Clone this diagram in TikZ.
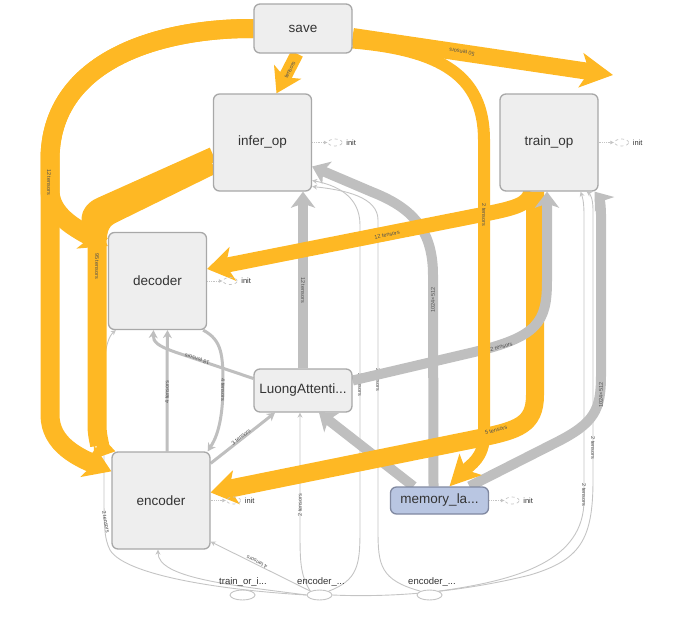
\documentclass[tikz,border=0pt]{standalone}
\usepackage{fontspec}
\setmainfont{Liberation Sans}
\usetikzlibrary{arrows.meta,shapes.geometric,backgrounds}
\definecolor{tfOrange}{RGB}{254,184,36}
\definecolor{tfGray}{RGB}{191,191,191}
\definecolor{tfThin}{RGB}{196,196,196}
\definecolor{opFill}{RGB}{238,238,238}
\definecolor{opLine}{RGB}{168,168,168}
\definecolor{memFill}{RGB}{185,198,226}
\definecolor{memLine}{RGB}{128,136,160}
\definecolor{opText}{RGB}{51,51,51}
\definecolor{lblText}{RGB}{80,80,80}
\tikzset{
  op/.style={draw=opLine,fill=opFill,line width=1.3pt,rounded corners=6pt,minimum width=98pt,minimum height=97pt,inner sep=0pt,text=opText,font=\fontsize{13.5}{15}\selectfont},
  mem/.style={op,fill=memFill,draw=memLine,minimum height=27pt},
  cst/.style={ellipse,draw=tfThin,fill=white,line width=0.9pt,minimum width=25pt,minimum height=10pt,inner sep=0pt},
  cstlbl/.style={text=opText,inner sep=0pt,font=\fontsize{9.5}{11}\selectfont},
  ini/.style={ellipse,draw=tfThin,dashed,line width=0.7pt,minimum width=14pt,minimum height=7pt,inner sep=0pt},
  initxt/.style={text=opText,inner sep=0pt,font=\fontsize{7.5}{8}\selectfont},
  inidot/.style={draw=tfThin,densely dotted,line width=0.8pt,-{Latex[length=4pt,width=4pt]}},
  lbl/.style={text=lblText,inner sep=0pt,font=\fontsize{5.5}{6}\selectfont},
  ctl/.style={draw=tfThin,line width=0.9pt,-{Stealth[length=5pt,width=5pt]}},
  dat/.style={draw=tfGray,line width=3pt,-{Stealth[length=8pt,width=9pt]}},
  fat/.style={draw=tfGray,line width=10pt,line join=round,-{Stealth[length=16pt,width=24pt,inset=4pt]}},
  ref/.style={draw=tfOrange,line width=#1,line join=round,-{Stealth[length=26pt,width=34pt,inset=7pt]}}
}
\newcommand{\ntens}[1]{#1 tensors}
\newcommand{\initstub}[1]{%
  \node[ini] (#1ini) at ([xshift=23pt]#1.east) {};
  \node[initxt,anchor=west] (#1init) at ([xshift=11pt]#1ini.center) {init};
  \draw[inidot] (#1.east) -- (#1ini.west);
}

\begin{document}
\begin{tikzpicture}[x=1pt,y=-1pt]
\useasboundingbox (0,0) rectangle (674,616);
% op nodes
\node[op,minimum height=49pt] (save) at (303,28.5) {save};
\node[op] (infer) at (262.5,142.5) {infer\_op};
\node[op] (train) at (549,142.5) {train\_op};
\node[op] (dec) at (157.5,281) {decoder};
\node[op] (enc) at (161,500.5) {encoder};
\node[op,minimum height=43pt] (luong) at (303,390.5) {LuongAttenti...};
\node[mem] (mem) at (439.5,500.5) {memory\_la...};
% inputs at the bottom
\node[cst] (trn) at (242.5,595) {};
\node[cst] (enc1) at (319.5,595) {};
\node[cst] (enc2) at (429.5,595) {};
\node[cstlbl] (trnL) at (243,582) {train\_or\_i...};
\node[cstlbl] (enc1L) at (321,582) {encoder\_...};
\node[cstlbl] (enc2L) at (432,582) {encoder\_...};
% init stubs
\initstub{infer} \initstub{train} \initstub{dec} \initstub{enc} \initstub{mem}

\begin{scope}[on background layer]
% thin lines from the inputs
\draw[ctl] (enc1.north west) .. controls (300,575) and (300,560) .. (300,530) -- ([xshift=-3pt]luong.south);
\draw[ctl] (enc1.north east) .. controls (358,580) and (360,565) .. (360,530) -- (360,225) .. controls (360,195) and (335,185) .. ([yshift=-38pt]infer.east);
\draw[ctl] (enc2.north west) .. controls (380,580) and (378,565) .. (378,530) -- (378,220) .. controls (378,197) and (345,190) .. ([yshift=-44pt]infer.east);
\draw[ctl] (enc2.north east) .. controls (520,580) and (584,560) .. (584,500) -- (584,215) .. controls (584,200) and (582,196) .. ([xshift=-18pt]train.south east);
\draw[ctl] (enc1.east) .. controls (400,598) and (470,590) .. (530,575) .. controls (580,560) and (593,540) .. (593,480) -- (593,210) .. controls (593,198) and (590,194) .. ([xshift=-12pt]train.south east);
\draw[ctl] (enc1.west) .. controls (230,585) and (158,578) .. ([xshift=-3pt]enc.south);
\draw[ctl] (enc1.north west) -- ([yshift=8pt]enc.south east);
\draw[ctl] (enc1.west) .. controls (220,590) and (125,575) .. (110,550) .. controls (104,538) and (104,525) .. (104,490) -- (104,375) .. controls (104,345) and (110,335) .. ([xshift=8pt]dec.south west);
\node[lbl,rotate=90] (lE1Lu) at (300,505) {\ntens{2}};
\node[lbl,rotate=-90] (lE1Inf) at (360,385) {\ntens{2}};
\node[lbl,rotate=-90] (lE2Inf) at (378,380) {\ntens{2}};
\node[lbl,rotate=-90] (lE2Trn) at (584,495) {\ntens{2}};
\node[lbl,rotate=-90] (lE1Trn) at (593,448) {\ntens{2}};
\node[lbl,rotate=153.7] (lE1Enc) at (257,562) {\ntens{4}};
\node[lbl,rotate=-80] (lE1Dec) at (106,522) {\ntens{2}};
% data edges
\draw[dat] ([yshift=12pt]luong.west) -- (175,352) .. controls (158,346) and (153,342) .. ([xshift=-4pt]dec.south);
\draw[dat] ([xshift=-4pt]dec.south east) .. controls (222,340) and (223,355) .. (223,385) .. controls (223,425) and (215,440) .. ([xshift=-3pt]enc.north east);
\draw[dat] ([xshift=6pt]enc.north) .. controls (167,420) and (167,360) .. ([xshift=10pt]dec.south);
\draw[dat] ([yshift=-12pt]enc.north east) -- ([xshift=-28pt]luong.south);
\node[lbl,rotate=161.5] (lLuDec) at (197,359) {\ntens{18}};
\node[lbl,rotate=-90] (lDecEnc) at (223,390) {\ntens{4}};
\node[lbl,rotate=90] (lEncDec) at (167,392) {\ntens{4}};
\node[lbl,rotate=38.7] (lEncLu) at (241,437) {\ntens{3}};
% wide data edges
\draw[fat] (luong.north) -- (luong.north |- infer.south);
\draw[fat] ([xshift=-6pt]mem.north) -- (433,275) .. controls (433,228) and (410,207) .. (372,192) -- ([yshift=-24pt]infer.east);
\draw[fat] ([xshift=30pt]mem.north) -- (555,443) .. controls (595,423) and (601,410) .. (601,375) -- (601,215) .. controls (601,200) and (598,196) .. ([xshift=-4pt]train.south east);
\draw[fat] ([xshift=-26pt]mem.north) -- ([xshift=16pt]luong.south);
\node[lbl,rotate=-90] (lLuInf) at (303,290) {\ntens{12}};
\node[lbl,rotate=90] (lMemInf) at (433,300) {1024×512};
\node[lbl,rotate=90] (lMemTrn) at (601,395) {1024×512};
% reference edges
\coordinate (rim) at (613,75);
\draw[ref=13pt,-{Stealth[length=24pt,width=30pt,inset=6pt]}] ([xshift=-6pt]save.south) -- ([xshift=14pt]infer.north);
\draw[ref=17pt,-{Stealth[length=32pt,width=34pt,inset=8pt]}] ([yshift=-8pt]save.east) -- (rim);
\draw[ref=19pt] (save.west) .. controls (160,28) and (50,60) .. (50,160) -- (50,190) .. controls (50,215) and (75,228) .. ([yshift=35pt]dec.west);
\draw[ref=19pt] (save.west) .. controls (160,28) and (50,60) .. (50,160) -- (50,415) .. controls (50,445) and (80,458) .. ([yshift=-20pt]enc.north west);
\draw[ref=15pt] ([yshift=-12pt]infer.west) -- (100,205) .. controls (85,212) and (88,225) .. ([yshift=42pt]dec.west);
\draw[ref=19pt] ([yshift=-22pt]infer.west) -- (110,215) .. controls (98,222) and (97,232) .. (97,250) -- (97,425) .. controls (97,440) and (102,448) .. ([xshift=4pt]enc.north west);
\draw[ref=15pt] ([xshift=-18pt]train.south) .. controls (528,205) and (515,208) .. (480,215) -- ([yshift=12pt]dec.east);
\draw[ref=18pt] ([xshift=-14pt]train.south) -- (535,395) .. controls (535,425) and (518,430) .. (480,438) -- ([yshift=8pt]enc.east);
% LuongAttention to train_op lies over its neighbour
\draw[fat] ([yshift=10pt]luong.east) -- (470,353) .. controls (539,337) and (547,322) .. (547,280) -- ([xshift=-2pt]train.south);
\node[lbl,rotate=14] (lLuTrn) at (500,347) {\ntens{12}};
\draw[ref=12pt,-{Stealth[length=30pt,width=30pt,inset=7pt]}] ([yshift=-14pt]save.east) .. controls (440,50) and (484,75) .. (484,140) -- (484,435) .. controls (484,458) and (470,465) .. ([xshift=10pt]mem.north);
\node[lbl,rotate=62] (lSaveInf) at (290,70) {tensors};
\node[lbl,rotate=171.3] (lSaveOff) at (462,52) {\ntens{50}};
\node[lbl,rotate=-90] (lSaveMem) at (484,215) {\ntens{2}};
\node[lbl,rotate=-90] (lSaveEnc) at (49,182) {\ntens{12}};
\node[lbl,rotate=-90] (lInfEnc) at (97,266) {\ntens{95}};
\node[lbl,rotate=11.5] (lTrnDec) at (387,235) {\ntens{12}};
\node[lbl,rotate=15] (lTrnEnc) at (496,430) {\ntens{5}};
\end{scope}
\end{tikzpicture}
\end{document}
